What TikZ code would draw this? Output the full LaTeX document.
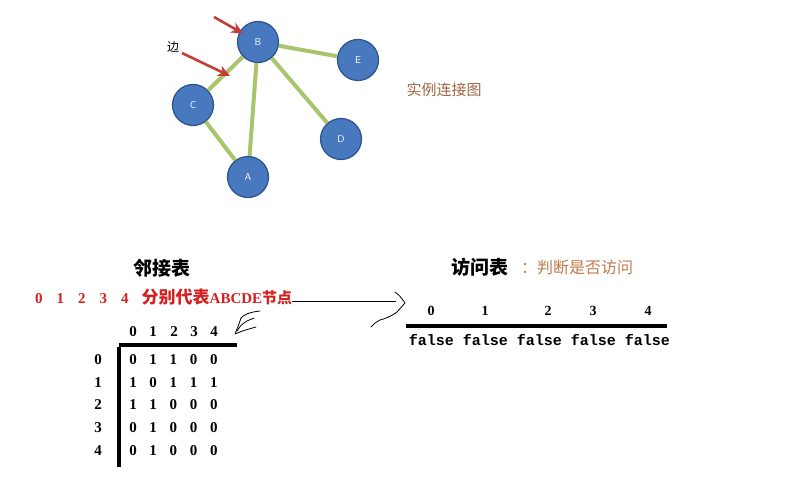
\documentclass[tikz,border=0pt]{standalone}
\usepackage{fontspec}
\setmainfont{Liberation Serif}
\newfontfamily\cjk{Noto Sans CJK SC}
\newfontfamily\monof{Liberation Mono}
\usetikzlibrary{arrows.meta}
\definecolor{nodeblue}{RGB}{72,120,190}
\definecolor{nodeedge}{RGB}{44,82,140}
\definecolor{edgegreen}{RGB}{168,196,108}
\definecolor{arrowred}{RGB}{196,62,56}
\definecolor{textred}{RGB}{212,32,32}
\definecolor{brownA}{RGB}{160,102,68}
\definecolor{brownB}{RGB}{192,122,72}
\begin{document}
\begin{tikzpicture}[x=1pt,y=-1pt,
  gnode/.style={circle, fill=nodeblue, draw=nodeedge, line width=1.2pt, minimum size=41pt, inner sep=0pt, text=white, font=\sffamily\fontsize{10}{10}\selectfont},
  gedge/.style={draw=edgegreen, line width=4pt},
  redarrow/.style={draw=arrowred, line width=2.6pt, -{Stealth[length=12pt,width=11pt]}},
  num/.style={font=\bfseries\fontsize{15}{15}\selectfont, inner sep=0pt},
  hand/.style={draw=black, line width=0.8pt, line cap=round, line join=round},
  rule/.style={draw=black, line width=4.5pt},
  title/.style={font=\cjk\bfseries\fontsize{19}{19}\selectfont, inner sep=0pt}]
\useasboundingbox[fill=white] (0,0) rectangle (792,492);
% graph
\node[gnode] (B) at (258,42) {B};
\node[gnode] (E) at (358,60) {E};
\node[gnode] (C) at (193,105) {C};
\node[gnode] (D) at (341,139) {D};
\node[gnode] (A) at (248,177) {A};
\draw[gedge] (B) -- (E);
\draw[gedge] (B) -- (C);
\draw[gedge] (B) -- (A);
\draw[gedge] (B) -- (D);
\draw[gedge] (C) -- (A);
\coordinate (r1s) at (214,17);
\draw[redarrow, shorten >=-4pt] (r1s) -- (B);
\coordinate (r2s) at (182,53);
\coordinate (r2e) at (230,76);
\draw[redarrow] (r2s) -- (r2e);
\node[font=\cjk\fontsize{12}{12}\selectfont, inner sep=0pt] (bian) at (173,47) {边};
\node[font=\cjk\fontsize{15}{15}\selectfont, text=brownA, inner sep=0pt] (shili) at (444,90) {实例连接图};
% adjacency table
\node[title] (ljb) at (162,268) {邻接表};
\node[anchor=west, text=textred, inner sep=0pt, font=\bfseries\fontsize{15}{15}\selectfont] (legend) at (35,297)
  {0\hspace{14pt}1\hspace{14pt}2\hspace{14pt}3\hspace{14pt}4\hspace{13pt}{\cjk\fontsize{17}{17}\selectfont 分别代表}ABCDE{\cjk\fontsize{15}{15}\selectfont 节点}};
\coordinate (hl) at (396,301);
\draw[line width=0.9pt] (legend.east |- hl) -- (hl);
\draw[hand] (395,292) .. controls (400,296) .. (405,303) .. controls (401,308) .. (397,312) .. controls (390,317) and (384,319) .. (380,320) .. controls (376,322) .. (371,327);
\draw[hand] (260,311) .. controls (250,312) and (243,315) .. (241,318) .. controls (239,324) .. (235,334) .. controls (242,331) .. (256,327);
\draw[hand] (237,331) .. controls (241,325) .. (247,321) -- (254,318);
% matrix
\foreach \c [count=\i from 0] in {133,153,174,194,214} {
  \node[num] (h\i) at (\c,332) {\i};
}
\draw[rule] (119,345) -- (237,345);
\draw[rule] (119,347) -- (119,467);
\foreach \r/\y/\vals in {0/360/{0,1,1,0,0},1/383/{1,0,1,1,1},2/405/{1,1,0,0,0},3/428/{0,1,0,0,0},4/451/{0,1,0,0,0}} {
  \node[num] (row\r) at (98,\y) {\r};
  \foreach \v [count=\j from 0] in \vals {
    \node[num] (m\r\j) at ({133+20.2*\j},\y) {\v};
  }
}
% visit table
\node[title] (fwb) at (480,267) {访问表};
\node[anchor=west, text=brownB, inner sep=0pt, font=\cjk\fontsize{16}{16}\selectfont] (pd) at (521,267) {：判断是否访问};
\foreach \c [count=\i from 0] in {431,485,548,593,648} {
  \node[num, font=\bfseries\fontsize{14}{14}\selectfont] (v\i) at (\c,311) {\i};
}
\draw[line width=4pt] (406,326) -- (667,326);
\node[inner sep=0pt, font=\monof\bfseries\fontsize{15}{15}\selectfont] (fl) at (539.5,340) {false false false false false};
\end{tikzpicture}
\end{document}
